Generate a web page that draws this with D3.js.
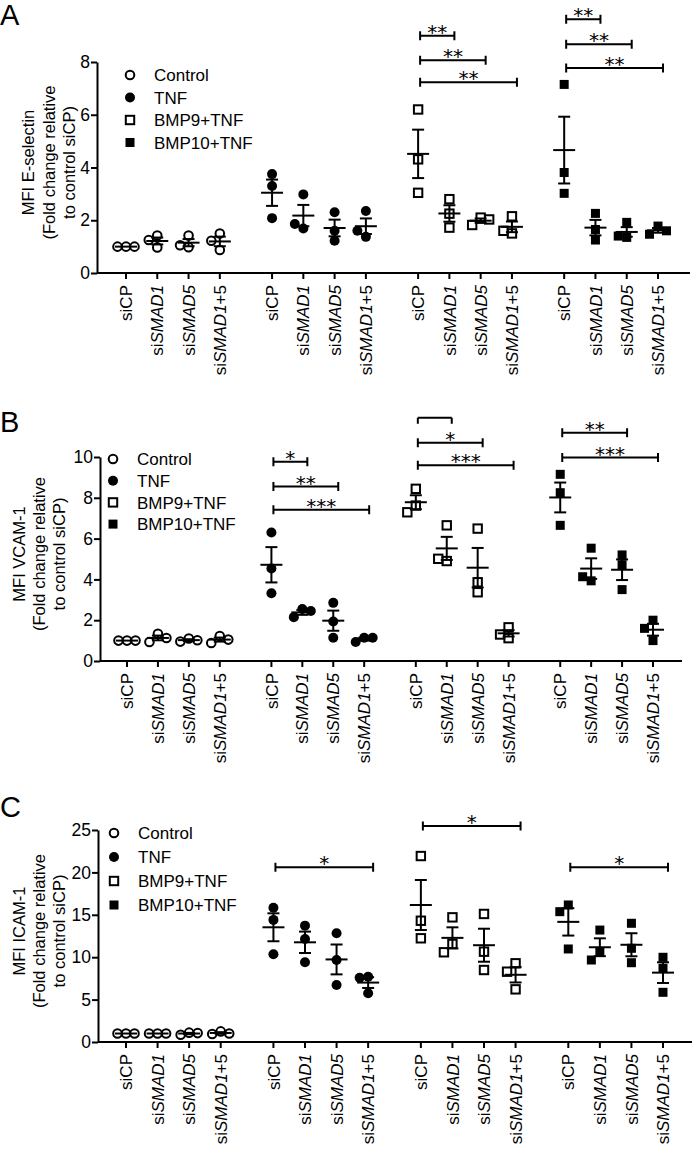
<!DOCTYPE html>
<html>
<head>
<meta charset="utf-8">
<script src="https://cdn.jsdelivr.net/npm/d3@7"></script>
<style>
body { margin: 0; background: #fff; }
svg { display: block; }
text { font-family: "Liberation Sans", Arial, sans-serif; fill: #000; }
</style>
</head>
<body>
<div id="chart"></div>
<script>
var groups = ["Control", "TNF", "BMP9+TNF", "BMP10+TNF"];
var sirnas = ["siCP", "siSMAD1", "siSMAD5", "siSMAD1+5"];

// fold change values, [group][siRNA][replicate]
var eselectin = [
    [[1, 1, 1], [1.42, 1.25, 0.97], [1.42, 0.98, 1.05], [1.5, 0.87, 1.22]],
    [[3.75, 3.3, 2.08], [2.98, 1.69, 1.86], [2.3, 1.6, 1.22], [2.35, 1.37, 1.6]],
    [[6.2, 4.31, 3.04], [2.8, 2.25, 1.72], [2.1, 1.82, 2.03], [2.15, 1.5, 1.6]],
    [[7.15, 3.81, 3.02], [2.26, 1.25, 1.65], [1.92, 1.35, 1.4], [1.78, 1.47, 1.6]]
];
var vcam1 = [
    [[1, 1, 1], [1.33, 0.93, 1.13], [1.1, 0.95, 1.02], [1.22, 0.88, 1.05]],
    [[6.3, 4.53, 3.32], [2.55, 2.15, 2.45], [2.85, 1.94, 1.14], [1.14, 0.93, 1.14]],
    [[8.44, 7.62, 7.29], [6.65, 4.9, 5.01], [6.49, 3.86, 3.37], [1.65, 1.12, 1.3]],
    [[9.15, 8.25, 6.65], [5.53, 3.93, 4.13], [5.2, 4.72, 3.5], [2.0, 1.6, 1.0]]
];
var icam1 = [
    [[1, 1, 1], [1, 1, 1], [1.1, 0.85, 1.05], [1.25, 0.95, 1.0]],
    [[15.84, 14.4, 10.34], [13.72, 12.15, 9.4], [12.82, 9.67, 6.72], [7.7, 7.58, 5.74]],
    [[21.93, 14.3, 12.23], [14.7, 11.56, 10.58], [15.1, 10.65, 8.49], [9.28, 8.29, 6.21]],
    [[16.16, 15.37, 10.97], [13.2, 10.65, 9.67], [14.0, 11.05, 9.35], [9.99, 8.69, 5.86]]
];

var eselTicks = [0, 2, 4, 6, 8];
var vcamTicks = [0, 2, 4, 6, 8, 10];
var icamTicks = [0, 5, 10, 15, 20, 25];

// significance brackets: group, from siRNA, to siRNA, label, bracket level (y units)
var eselSig = [
    [2, 0, 1, "**", 9.0], [2, 0, 2, "**", 8.07], [2, 0, 3, "**", 7.23],
    [3, 0, 1, "**", 9.62], [3, 0, 2, "**", 8.67], [3, 0, 3, "**", 7.77]
];
var vcamSig = [
    [1, 0, 1, "*", 9.77], [1, 0, 2, "**", 8.55], [1, 0, 3, "***", 7.41],
    [2, 0, 1, "", 11.92], [2, 0, 2, "*", 10.7], [2, 0, 3, "***", 9.6],
    [3, 0, 2, "**", 11.19], [3, 0, 3, "***", 9.97]
];
var icamSig = [
    [1, 0, 3, "*", 20.6], [2, 0, 3, "*", 25.47], [3, 0, 3, "*", 20.6]
];

var panels = [
    {letter: "A", letterY: 25, data: eselectin, sig: eselSig, ticks: eselTicks,
     title: ["MFI E-selectin", "(Fold change relative", "to control siCP)"], titleX: [28, 49, 69],
     yTop: 62, yBot: 273, xFirst: 126, xLast: 658, axisX: 97, axisEnd: 690,
     legX: 130, legY: 75, legStep: 22.5},
    {letter: "B", letterY: 432, data: vcam1, sig: vcamSig, ticks: vcamTicks,
     title: ["MFI VCAM-1", "(Fold change relative", "to control siCP)"], titleX: [19, 39, 59],
     yTop: 457, yBot: 661, xFirst: 127, xLast: 653, axisX: 100, axisEnd: 682,
     legX: 113, legY: 459, legStep: 21.7},
    {letter: "C", letterY: 817, data: icam1, sig: icamSig, ticks: icamTicks,
     title: ["MFI ICAM-1", "(Fold change relative", "to control siCP)"], titleX: [19, 39, 59],
     yTop: 830, yBot: 1042, xFirst: 126, xLast: 663, axisX: 98, axisEnd: 692,
     legX: 114, legY: 833, legStep: 24}
];

var groupSlots = 4.67;
function slot(g, i) { return g * groupSlots + i; }

var svg = d3.select("#chart")
    .append("svg")
    .attr("width", 693)
    .attr("height", 1151);

function drawSymbol(sel, g, cx, cy) {
    if (g < 2) {
        sel.append("circle")
            .attr("cx", cx).attr("cy", cy)
            .attr("r", g == 0 ? 4.3 : 5)
            .attr("fill", g == 0 ? "none" : "#000")
            .attr("stroke", "#000")
            .attr("stroke-width", g == 0 ? 2 : 0);
    } else {
        var s = g == 2 ? 8.4 : 9;
        sel.append("rect")
            .attr("x", cx - s / 2).attr("y", cy - s / 2)
            .attr("width", s).attr("height", s)
            .attr("fill", g == 2 ? "none" : "#000")
            .attr("stroke", "#000")
            .attr("stroke-width", g == 2 ? 2 : 0);
    }
}

panels.forEach(function(p) {
    var chartGroup = svg.append("g");

    var x = d3.scaleLinear()
        .domain([0, slot(3, 3)])
        .range([p.xFirst, p.xLast]);
    var y = d3.scaleLinear()
        .domain([0, d3.max(p.ticks)])
        .range([p.yBot, p.yTop]);

    // panel letter
    chartGroup.append("text")
        .attr("x", 0).attr("y", p.letterY)
        .style("font-size", "29px")
        .text(p.letter);

    // y axis
    var leftAxis = d3.axisLeft(y).tickValues(p.ticks).tickSize(6).tickSizeOuter(0).tickPadding(1);
    var yAxisG = chartGroup.append("g")
        .attr("transform", `translate(${p.axisX}, 0)`)
        .call(leftAxis);
    yAxisG.selectAll("path, line").attr("stroke", "#000").attr("stroke-width", 2);
    yAxisG.selectAll("text")
        .style("font-size", "17.5px")
        .style("font-family", "'Liberation Sans', Arial, sans-serif")
        .attr("fill", "#000");

    // x axis
    chartGroup.append("line")
        .attr("x1", p.axisX).attr("x2", p.axisEnd)
        .attr("y1", p.yBot).attr("y2", p.yBot)
        .attr("stroke", "#000").attr("stroke-width", 2);

    var slots = [];
    groups.forEach(function(gName, g) {
        sirnas.forEach(function(s, i) { slots.push({g: g, i: i, label: s}); });
    });

    chartGroup.selectAll(".xtick")
        .data(slots)
        .enter()
        .append("line")
        .attr("x1", d => x(slot(d.g, d.i)))
        .attr("x2", d => x(slot(d.g, d.i)))
        .attr("y1", p.yBot)
        .attr("y2", p.yBot + 6)
        .attr("stroke", "#000").attr("stroke-width", 2);

    var xLabels = chartGroup.selectAll(".xlab")
        .data(slots)
        .enter()
        .append("text")
        .attr("transform", d => `translate(${x(slot(d.g, d.i))}, ${p.yBot + 12}) rotate(-90)`)
        .attr("text-anchor", "end")
        .attr("dy", "0.36em")
        .style("font-size", "17px");
    xLabels.each(function(d) {
        var t = d3.select(this);
        var m = d.label.match(/^si(SMAD\d)(.*)$/);
        if (m) {
            t.append("tspan").text("si");
            t.append("tspan").style("font-style", "italic").text(m[1]);
            if (m[2]) t.append("tspan").text(m[2]);
        } else {
            t.text(d.label);
        }
    });

    // y title
    var midY = (p.yTop + p.yBot) / 2 - 5;
    p.title.forEach(function(line, k) {
        chartGroup.append("text")
            .attr("transform", `translate(${p.titleX[k]}, ${midY}) rotate(-90)`)
            .attr("text-anchor", "middle")
            .attr("dy", "0.36em")
            .style("font-size", "16.5px")
            .text(line);
    });

    // legend
    groups.forEach(function(gName, g) {
        var ly = p.legY + g * p.legStep;
        drawSymbol(chartGroup, g, p.legX, ly);
        chartGroup.append("text")
            .attr("x", p.legX + 24).attr("y", ly)
            .attr("dy", "0.36em")
            .style("font-size", "17px")
            .text(gName);
    });

    // points, mean and SEM
    var spread = 8.5;
    p.data.forEach(function(gData, g) {
        gData.forEach(function(vals, i) {
            var cx = x(slot(g, i));
            var placed = [];
            vals.forEach(function(v) {
                var cy = y(v);
                var offs = [0, -spread, spread, -2 * spread, 2 * spread];
                var off = offs.find(function(o) {
                    return placed.every(q => Math.hypot(q[0] - o, q[1] - cy) >= spread);
                });
                if (off === undefined) off = 0;
                placed.push([off, cy]);
                drawSymbol(chartGroup, g, cx + off, cy);
            });

            var mean = d3.mean(vals);
            var sem = d3.deviation(vals) / Math.sqrt(vals.length);
            var lines = [
                [cx - 11, y(mean), cx + 11, y(mean)],
                [cx, y(mean - sem), cx, y(mean + sem)],
                [cx - 6, y(mean - sem), cx + 6, y(mean - sem)],
                [cx - 6, y(mean + sem), cx + 6, y(mean + sem)]
            ];
            if (sem < 0.02) lines = lines.slice(0, 1);
            lines.forEach(function(l) {
                chartGroup.append("line")
                    .attr("x1", l[0]).attr("y1", l[1])
                    .attr("x2", l[2]).attr("y2", l[3])
                    .attr("stroke", "#000").attr("stroke-width", 2);
            });
        });
    });

    // significance brackets
    p.sig.forEach(function(s) {
        var xa = x(slot(s[0], s[1])) + 2;
        var xb = x(slot(s[0], s[2])) + 5;
        var by = y(s[4]);
        var capTop = s[3] ? by - 4.5 : by;
        var capBot = s[3] ? by + 4.5 : by + 6;
        chartGroup.append("path")
            .attr("d", `M${xa},${capTop}V${capBot}M${xa},${by}H${xb}M${xb},${capTop}V${capBot}`)
            .attr("fill", "none")
            .attr("stroke", "#000").attr("stroke-width", 2);
        if (s[3]) {
            chartGroup.append("text")
                .attr("x", (xa + xb) / 2)
                .attr("y", by + 3)
                .attr("text-anchor", "middle")
                .style("font-family", "'DejaVu Sans', sans-serif")
                .style("font-size", "20px")
                .text(s[3]);
        }
    });
});
</script>
</body>
</html>
